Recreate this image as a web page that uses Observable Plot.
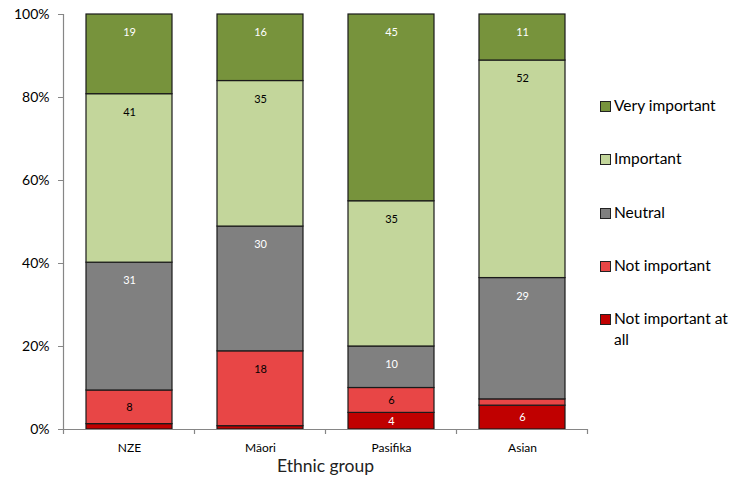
<!DOCTYPE html>
<html>
<head>
<meta charset="utf-8">
<script src="https://cdn.jsdelivr.net/npm/d3@7"></script>
<script src="https://cdn.jsdelivr.net/npm/@observablehq/plot@0.6"></script>
<style>
  html, body { margin: 0; padding: 0; background: #fff; }
  #wrap { position: relative; width: 730px; height: 479px; font-family: Lato, "Open Sans", sans-serif; }
  #legend { position: absolute; left: 600px; top: 0; width: 130px; font-size: 15.5px; color: #000; }
  .item { position: absolute; left: 0; display: flex; align-items: flex-start; width: 130px; line-height: 21px; }
  .sw { width: 9px; height: 9px; border: 1px solid #222; margin-top: 6px; margin-right: 3px; flex: none; }
</style>
</head>
<body>
<div id="wrap"><div id="legend"></div></div>
<script>
const groups = ["NZE", "Māori", "Pasifika", "Asian"];
const series = ["Not important at all", "Not important", "Neutral", "Important", "Very important"];
const colors = ["#C00000", "#E84646", "#808080", "#C3D69B", "#77933C"];
const labelColors = ["#fff", "#000", "#fff", "#000", "#fff"];
// values per group, bottom to top (percent)
const nze      = [1.3, 8.1, 30.8, 40.6, 19.2];
const maori    = [0.8, 18, 30, 35, 16];
const pasifika = [4, 6, 10, 35, 45];
const asian    = [5.7, 1.5, 29, 52, 11];
const yTicks = [0, 0.2, 0.4, 0.6, 0.8, 1];

const rows = [];
[nze, maori, pasifika, asian].forEach((vals, gi) => {
  vals.forEach((v, si) => rows.push({group: groups[gi], series: series[si], value: v, si}));
});
const lab = d => d.value >= 3 ? String(Math.round(d.value)) : "";
// small segments: label centred; larger: label near the top
const labelText = (color, small) => d =>
  labelColors[d.si] === color && (d.value < 9) === small ? lab(d) : "";

const stackOpts = {x: "group", y: "value", offset: "normalize"};
const plot = Plot.plot({
  width: 730,
  height: 479,
  marginLeft: 63,
  marginRight: 142,
  marginTop: 14,
  marginBottom: 50,
  style: {fontFamily: "Lato, 'Open Sans', sans-serif", background: "#fff"},
  x: {domain: groups, paddingInner: 0.345, paddingOuter: 0.172, label: null},
  y: {domain: [0, 1], label: null},
  color: {domain: series, range: colors},
  marks: [
    Plot.barY(rows, Plot.stackY({...stackOpts, fill: "series", stroke: "#1a1a1a", strokeWidth: 1.2})),
    ...["#fff", "#000"].flatMap(c => [
      Plot.text(rows, Plot.stackY2({...stackOpts, text: labelText(c, false), fill: c, dy: 18, fontSize: 11})),
      Plot.text(rows, Plot.stackY({...stackOpts, text: labelText(c, true), fill: c, fontSize: 11}))
    ]),
    Plot.axisY({ticks: yTicks, tickFormat: d => Math.round(d * 100) + "%", tickSize: 5, tickPadding: 9, fontSize: 14, stroke: "#868686", color: "#000"}),
    Plot.axisX({tickSize: 0, tickPadding: 14, fontSize: 12, label: null}),
    Plot.ruleY([0], {stroke: "#868686", strokeWidth: 1.2})
  ]
});

// Axis lines & boundary ticks from scales
const svg = d3.select(plot.tagName === "svg" ? plot : plot.querySelector("svg"));
const xs = plot.scale("x"), ys = plot.scale("y");
const off = (xs.step - xs.bandwidth) / 2;
const bounds = groups.map(g => xs.apply(g) - off).concat([xs.apply(groups[groups.length - 1]) + xs.bandwidth + off]);
const y0 = ys.apply(0), y1 = ys.apply(1);
const g = svg.append("g").attr("stroke", "#868686").attr("stroke-width", 1.2);
g.append("line").attr("x1", bounds[0]).attr("x2", bounds[0]).attr("y1", y0).attr("y2", y1);
bounds.forEach(b => g.append("line").attr("x1", b).attr("x2", b).attr("y1", y0).attr("y2", y0 + 5));
svg.append("text").attr("x", (bounds[0] + bounds[bounds.length - 1]) / 2).attr("y", 472)
  .attr("text-anchor", "middle").attr("font-size", 17.5).attr("fill", "#222").text("Ethnic group");

document.getElementById("wrap").prepend(plot);
plot.style.position = "absolute"; plot.style.left = "0"; plot.style.top = "0";

// legend
const legendTops = [95, 148, 202, 255, 308];
const legend = document.getElementById("legend");
[...series].reverse().forEach((s, i) => {
  const c = colors[series.length - 1 - i];
  const it = document.createElement("div");
  it.className = "item";
  it.style.top = legendTops[i] + "px";
  it.innerHTML = `<span class="sw" style="background:${c}"></span><span>${s}</span>`;
  legend.appendChild(it);
});
</script>
</body>
</html>
